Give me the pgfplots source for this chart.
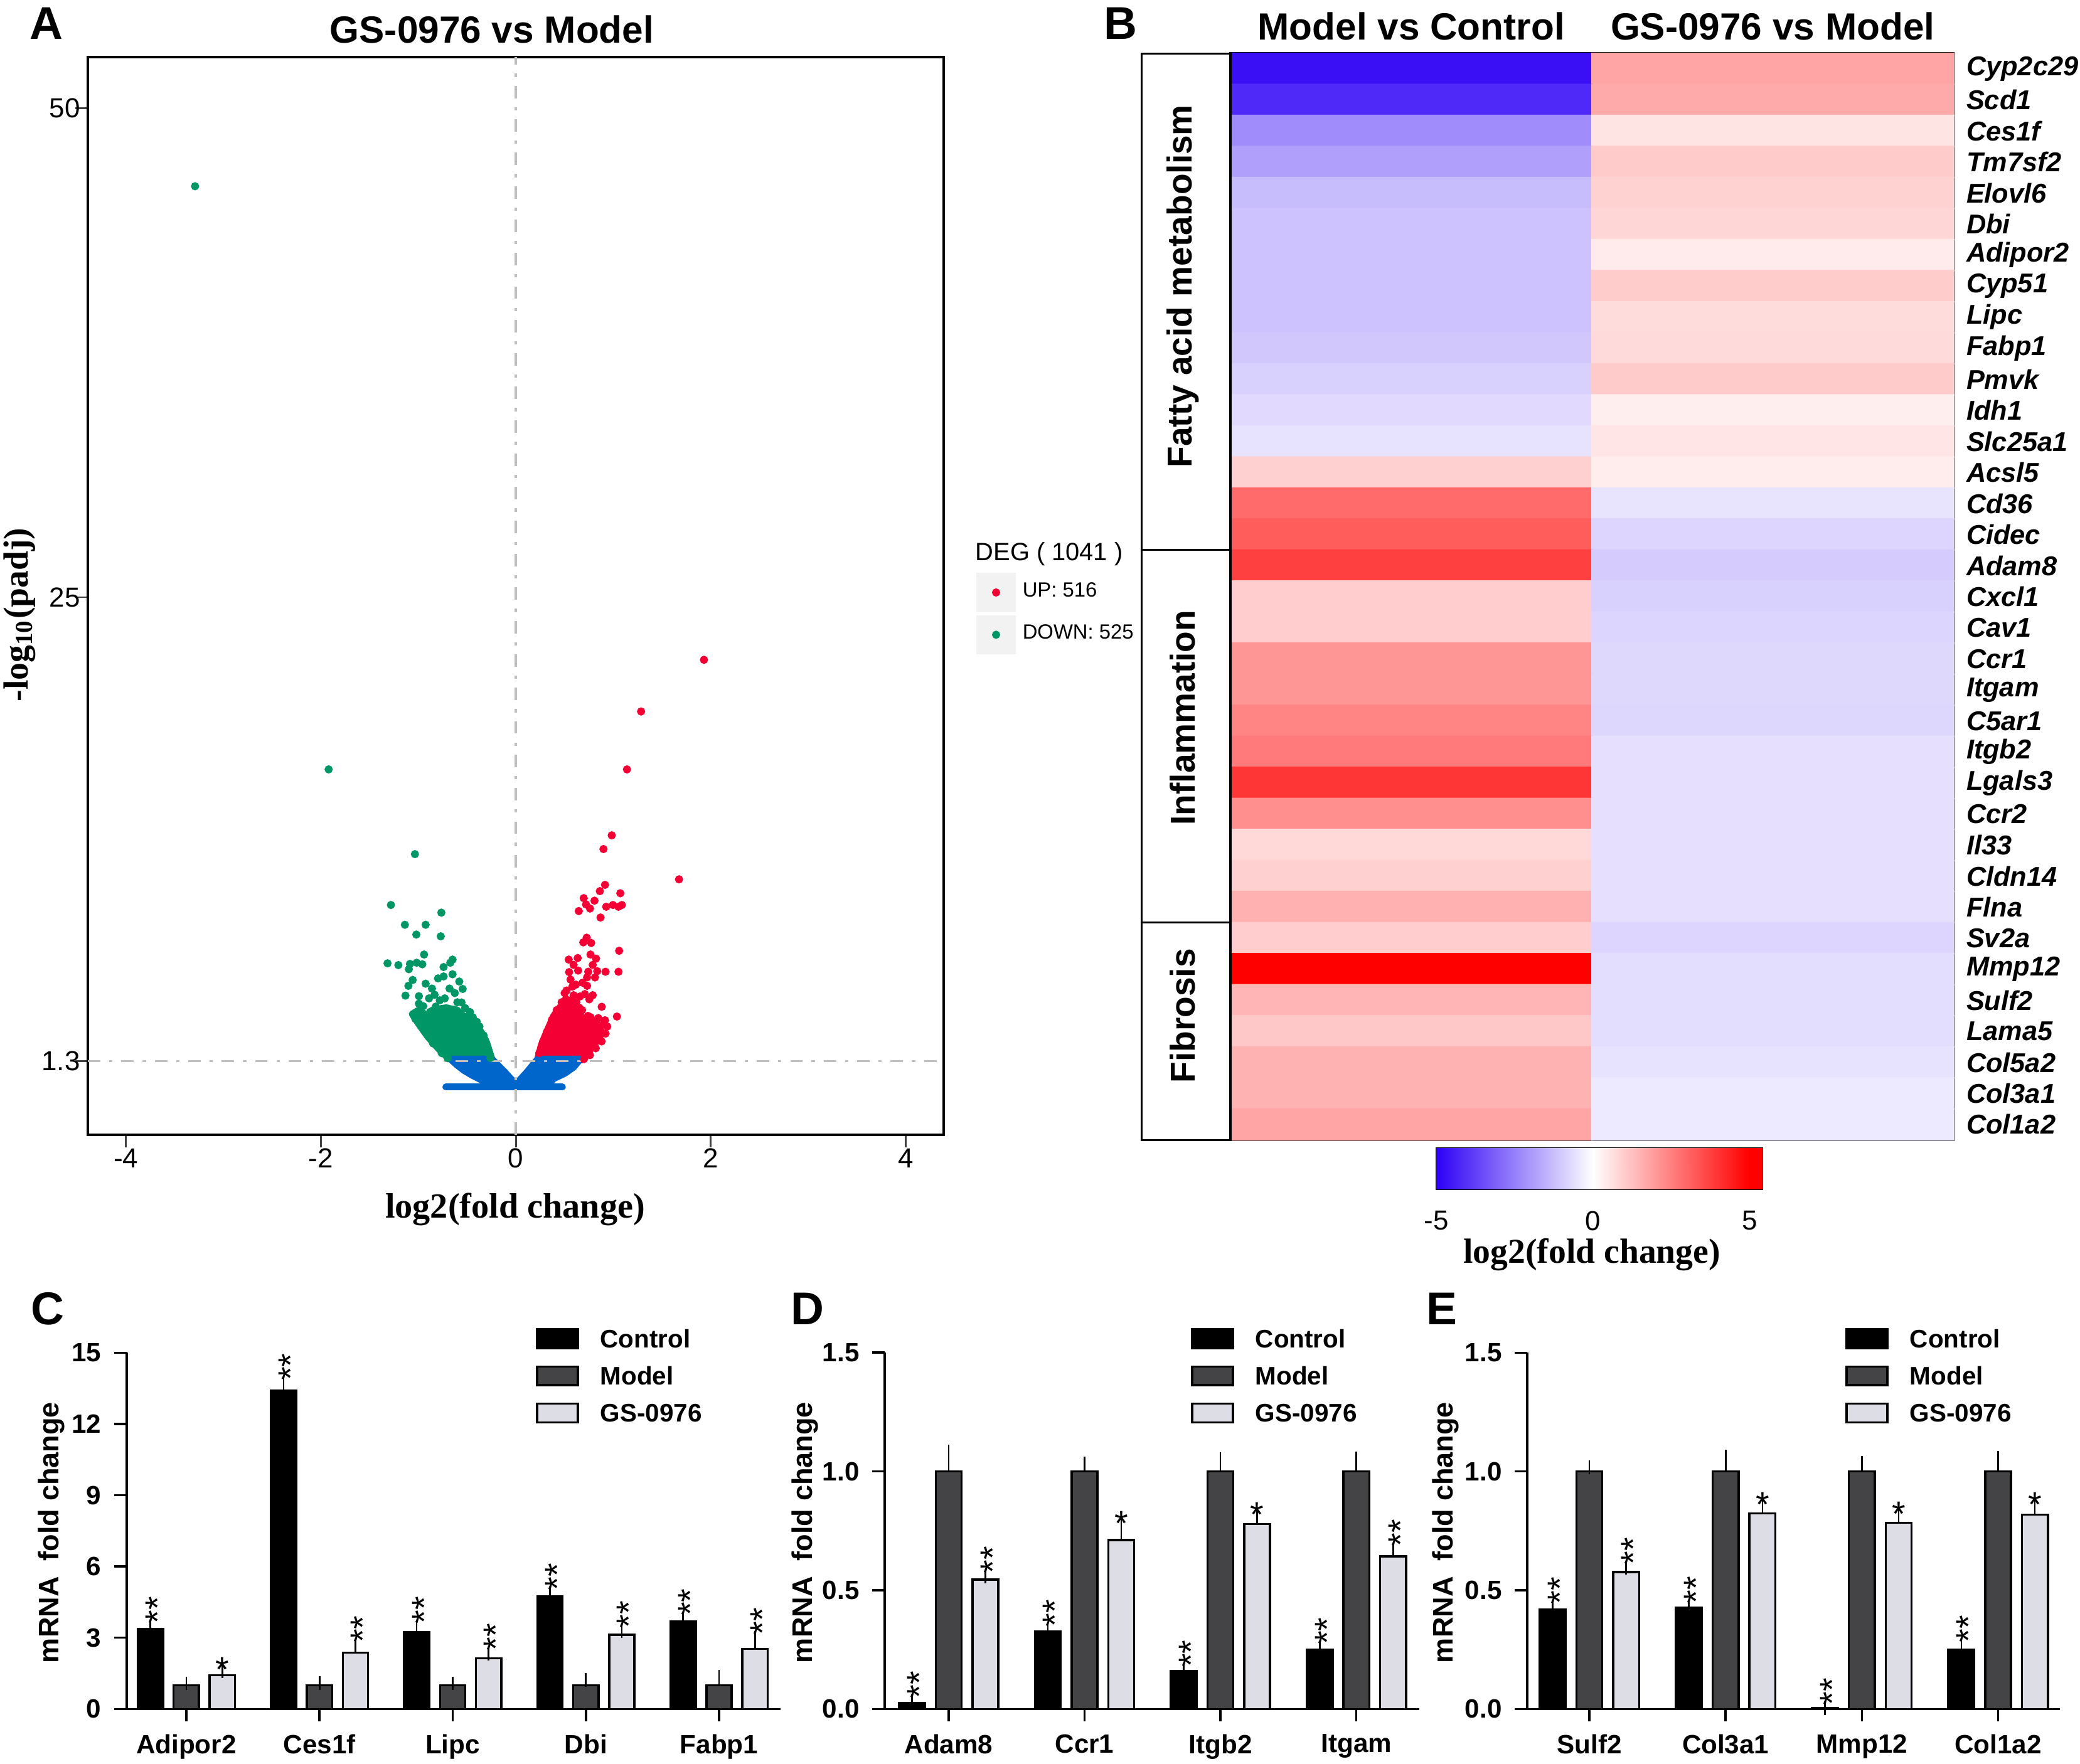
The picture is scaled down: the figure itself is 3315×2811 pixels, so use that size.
\documentclass[border=0pt]{standalone}
\usepackage{pgfplots}
\pgfplotsset{compat=1.18}
\usepackage{pgfplotstable}
\usepackage{fontspec}
\setmainfont{Liberation Sans}
\newfontfamily\tnr{Liberation Serif}
\newcommand{\fs}[1]{\fontsize{#1}{#1}\selectfont}
\definecolor{vgreen}{RGB}{0,150,102}
\definecolor{vred}{RGB}{245,0,52}
\definecolor{vblue}{RGB}{0,102,204}
\definecolor{modelgray}{RGB}{68,68,70}
\definecolor{gsgray}{RGB}{221,221,230}
\definecolor{refgray}{RGB}{190,190,190}
\definecolor{keybg}{RGB}{242,242,242}

\pgfplotsset{
  colormap={hm}{rgb255(0cm)=(45,0,245) rgb255(25cm)=(255,255,255) rgb255(50cm)=(255,0,0) rgb255(51cm)=(255,0,0) rgb255(52cm)=(255,0,0)},
  deglegend/.style={legend image code/.code={\fill[keybg] (0pt,-5.12pt) rectangle (10.24pt,5.12pt); \draw[##1] plot coordinates {(5.12pt,0pt)};}},
  barlegend/.style={legend image code/.code={\draw[##1, line width=0.6pt] (0pt,-1.85pt) rectangle (11.1pt,3.25pt);}},
  barchart/.style={scale only axis, height=34.08mm, ymin=0,
    axis lines=left, axis line style={-, line width=0.6pt},
    tick align=outside, major tick length=3.4pt, tick style={line width=0.6pt, black},
    tick label style={font=\bfseries\fs{7.2}},
    clip=false,
    legend style={draw=none, fill=none, anchor=north west, font=\bfseries\fs{6.9}, row sep=3.3pt, column sep=5.8pt, nodes={inner sep=0pt}, inner sep=0pt},
    legend cell align=left},
  mybar/.style={ybar, bar shift=0pt, bar width=0.19, draw=black, line width=0.6pt, barlegend,
    error bars/.cd, y dir=plus, y explicit, error bar style={line width=0.45pt, black, solid}, error mark options={black, line width=0.45pt, mark size=1.85pt}},
}
% significance marks above an error bar: one upright asterisk, or two stacked
\newcommand{\sone}[2]{\node[anchor=base, inner sep=0pt, font=\fs{9.5}] at ([yshift=-2.8pt]axis cs:#1,#2) {*};}
\newcommand{\stwo}[2]{\node[rotate=90, anchor=west, inner sep=0pt, font=\fs{9.5}] at ([xshift=2pt, yshift=0.6pt]axis cs:#1,#2) {**};}

% bar data
\pgfplotstableread{
x y e
-0.27 3.37 0.10
0.73 13.40 0.30
1.73 3.24 0.23
2.73 4.74 0.12
3.73 3.69 0.11
}\Cc
\pgfplotstableread{
x y e
0 1 0.08
1 1 0.09
2 1 0.08
3 1 0.22
4 1 0.35
}\Cm
\pgfplotstableread{
x y e
0.27 1.42 0.17
1.27 2.37 0.29
2.27 2.13 0.21
3.27 3.12 0.16
4.27 2.53 0.46
}\Cg
\pgfplotstableread{
x y e
-0.27 0.026 0.006
0.73 0.325 0.008
1.73 0.159 0.004
2.73 0.250 0.008
}\Dc
\pgfplotstableread{
x y e
0 1 0.084
1 1 0.034
2 1 0.053
3 1 0.055
}\Dm
\pgfplotstableread{
x y e
0.27 0.545 0.013
1.27 0.711 0.062
2.27 0.779 0.032
3.27 0.642 0.030
}\Dg
\pgfplotstableread{
x y e
-0.27 0.419 0.009
0.73 0.426 0.005
1.73 0.003 0.000
2.73 0.251 0.016
}\Ec
\pgfplotstableread{
x y e
0 1 0.017
1 1 0.062
2 1 0.037
3 1 0.058
}\Em
\pgfplotstableread{
x y e
0.27 0.577 0.018
1.27 0.824 0.029
2.27 0.784 0.030
3.27 0.818 0.035
}\Eg

\begin{document}
\begin{tikzpicture}[x=0.06mm,y=-0.06mm]
\useasboundingbox (0,0) rectangle (3315,2811);

% ---------------- Panel A ----------------
\node[font=\bfseries\fs{12.5}] at (74,37) {A};
\node[font=\bfseries\fs{10.3}] at (784,47) {GS-0976 vs Model};
\node[rotate=90, font=\tnr\bfseries\fs{9.5}] at (31,980) {-log\textsubscript{10}(padj)};
\node[font=\tnr\bfseries\fs{9.6}] at (821,1928) {log2(fold change)};
\node[font=\fs{6.8}] at (1672,883) {DEG ( 1041 )};

\begin{axis}[at={(8.4mm,-108.54mm)}, anchor=south west, scale only axis,
  width=81.84mm, height=103.08mm,
  xmin=-4.39, xmax=4.39, ymin=-2.48, ymax=52.6,
  xtick={-4,-2,0,2,4}, xticklabels={-4,-2,0,2,4},
  ytick={1.3,25,50}, yticklabels={1.3,25,50},
  tick pos=left, tick align=outside, major tick length=3.4pt,
  tick style={black!75, line width=0.5pt},
  tick label style={font=\fs{7.5}},
  xticklabel style={yshift=3.2pt},
  yticklabel style={xshift=4.8pt},
  axis line style={line width=0.7pt},
  legend style={draw=none, fill=none, at={(1.0374,0.5221)}, anchor=north west,
    font=\fs{5.6}, row sep=0.86pt, column sep=1.9pt, nodes={inner sep=0pt}, inner sep=0pt},
  legend cell align=left,
]
% dense cores
\addplot[forget plot, fill=vred, draw=vred, line width=1.83pt, line join=round] coordinates {
(0.225,1.41) (0.260,2.10) (0.294,2.53) (0.340,3.06) (0.386,3.59) (0.455,4.07) (0.547,4.13) (0.616,4.02) (0.639,3.70) (0.708,3.43) (0.800,3.27) (0.869,3.06) (0.858,2.53) (0.800,2.10) (0.731,1.67) (0.674,1.35) (0.225,1.41)};
\addplot[forget plot, fill=vgreen, draw=vgreen, line width=1.83pt, line join=round] coordinates {
(-0.672,1.35) (-0.787,1.89) (-0.902,2.53) (-0.994,3.17) (-1.063,3.70) (-0.994,3.91) (-0.902,3.59) (-0.856,3.91) (-0.718,4.02) (-0.603,3.91) (-0.534,3.59) (-0.442,3.43) (-0.396,3.06) (-0.350,2.74) (-0.304,2.31) (-0.269,1.78) (-0.246,1.41) (-0.672,1.35)};
% UP
\addplot[only marks, mark=*, mark size=0.91pt, color=vred, mark options={draw=none, fill=vred}, deglegend] coordinates {
(1.93,21.8) (1.285,19.16) (1.14,16.2) (1.674,10.58) (0.984,12.83) (0.899,12.13) (0.915,10.30) (0.862,9.98) (1.072,9.87) (0.697,9.62) (0.807,9.49) (0.720,9.30) (0.761,9.09) (0.927,9.18) (0.996,9.27) (1.053,9.18) (1.088,9.27) (0.646,8.96) (0.869,8.63) (0.727,7.60) (0.692,7.36) (0.773,7.33) (1.060,6.93) (0.766,6.74) (0.635,6.56) (0.543,6.48) (0.823,6.53) (0.789,6.21) (0.593,6.21) (0.639,5.92) (0.547,5.84) (0.743,5.86) (0.835,5.89) (0.920,5.86) (1.053,5.86) (0.731,5.57) (0.812,5.57) (0.561,5.46) (0.616,5.20) (0.685,5.30) (0.731,5.14) (0.501,4.77) (0.593,4.66) (0.708,4.72) (0.789,4.66) (0.513,4.45) (0.754,4.45) (0.651,4.02) (0.881,4.07) (1.037,3.57) (0.766,3.54) (0.846,3.49) (0.915,3.38) (0.938,3.06) (0.865,2.90) (0.858,2.53) (0.363,3.22) (0.24,1.7) (0.28,2.3) (0.32,2.8) (0.37,3.4) (0.42,3.9) (0.47,4.3) (0.56,4.4) (0.62,4.3) (0.68,3.9) (0.74,3.6) (0.82,3.35) (0.90,3.2) (0.92,2.7) (0.88,2.3) (0.82,1.95) (0.76,1.6) (0.70,1.4) (0.52,4.9) (0.66,4.6) (0.58,5.1)};
\addlegendentry{UP: 516}
% DOWN
\addplot[only marks, mark=*, mark size=0.91pt, color=vgreen, mark options={draw=none, fill=vgreen}, deglegend] coordinates {
(-3.29,46.0) (-1.92,16.2) (-1.035,11.87) (-1.281,9.27) (-0.764,8.88) (-1.138,8.26) (-0.925,8.26) (-1.021,7.76) (-0.770,7.67) (-0.941,6.74) (-1.316,6.29) (-1.205,6.20) (-1.086,6.26) (-1.017,6.32) (-0.959,6.24) (-1.097,5.99) (-0.649,6.48) (-0.672,6.32) (-0.741,6.10) (-1.058,5.44) (-0.925,5.25) (-1.102,5.14) (-1.132,4.64) (-0.994,4.61) (-0.890,4.50) (-0.833,4.68) (-0.798,5.52) (-0.741,5.62) (-0.649,5.73) (-0.580,5.36) (-0.545,4.98) (-0.729,4.50) (-0.626,4.77) (-0.557,4.29) (-1.051,3.70) (-0.994,4.23) (-0.821,4.08) (-0.695,3.97) (-0.971,3.11) (-0.442,3.54) (-0.373,3.06) (-0.304,2.21) (-0.879,3.81) (-0.488,3.59) (-0.60,4.3) (-0.68,5.0) (-0.86,5.0) (-0.95,4.1) (-0.78,4.4) (-0.52,4.0) (-0.47,3.8) (-0.40,3.3) (-0.33,2.6) (-1.03,3.45) (-0.93,2.8) (-0.85,2.2) (-0.76,1.7) (-0.70,1.45) (-0.28,1.7) (-0.26,1.45)};
\addlegendentry{DOWN: 525}
% not significant
\addplot[forget plot, fill=vblue, draw=vblue, line width=1.83pt, line join=round] coordinates {
(-0.672,1.40) (-0.603,1.09) (-0.534,0.82) (-0.442,0.55) (-0.35,0.32) (-0.29,0.05) (0.33,0.05) (0.386,0.39) (0.501,0.66) (0.593,0.98) (0.662,1.40) (0.225,1.40) (0.11,0.71) (0.02,0.22) (-0.02,0.22) (-0.12,0.77) (-0.246,1.40) (-0.672,1.40)};
\addplot[forget plot, vblue, line width=1.83pt, line cap=round] coordinates {(-0.718,-0.03) (0.478,-0.03)};
% reference lines
\addplot[forget plot, refgray, line width=0.6pt, dash pattern=on 3.4pt off 2.4pt on 0.9pt off 2.4pt] coordinates {(0,-2.48) (0,52.6)};
\addplot[forget plot, refgray, line width=0.6pt, dash pattern=on 3.4pt off 2.4pt on 0.9pt off 2.4pt] coordinates {(-4.39,1.3) (4.39,1.3)};
\end{axis}

% ---------------- Panel B ----------------
\node[font=\bfseries\fs{12.5}] at (1786,37) {B};
\node[font=\tnr\bfseries\fs{9.5}] at (2537,2000) {log2(fold change)};

\begin{axis}[at={(117.66mm,-109.02mm)}, anchor=south west, scale only axis,
  width=69.12mm, height=103.92mm,
  xmin=-0.5, xmax=1.5, ymin=-0.5, ymax=34.5, y dir=reverse, enlargelimits=false,
  xtick={0,1}, xticklabels={Model vs Control, GS-0976 vs Model}, xticklabel pos=upper,
  ytick={0,...,34},
  yticklabels={Cyp2c29,Scd1,Ces1f,Tm7sf2,Elovl6,Dbi,Adipor2,Cyp51,Lipc,Fabp1,Pmvk,Idh1,Slc25a1,Acsl5,Cd36,Cidec,Adam8,Cxcl1,Cav1,Ccr1,Itgam,C5ar1,Itgb2,Lgals3,Ccr2,Il33,Cldn14,Flna,Sv2a,Mmp12,Sulf2,Lama5,Col5a2,Col3a1,Col1a2},
  yticklabel pos=right,
  major tick length=0pt,
  xticklabel style={font=\bfseries\fs{10.3}},
  yticklabel style={font=\bfseries\itshape\fs{7.4}},
  axis line style={line width=0.7pt},
  colormap name=hm,
  point meta min=-5, point meta max=5.4,
  clip=false,
]
\addplot[matrix plot*, mesh/cols=2, point meta=explicit] table[meta=c] {
x y c
0 0 -4.7
1 0 1.76
0 1 -4.2
1 1 1.67
0 2 -2.25
1 2 0.53
0 3 -1.86
1 3 1.04
0 4 -1.3
1 4 0.88
0 5 -1.2
1 5 0.80
0 6 -1.2
1 6 0.40
0 7 -1.2
1 7 1.00
0 8 -1.2
1 8 0.69
0 9 -1.1
1 9 0.73
0 10 -0.9
1 10 1.04
0 11 -0.72
1 11 0.33
0 12 -0.57
1 12 0.50
0 13 0.92
1 13 0.37
0 14 2.9
1 14 -0.53
0 15 3.2
1 15 -0.82
0 16 3.75
1 16 -1.0
0 17 0.98
1 17 -0.92
0 18 0.98
1 18 -0.83
0 19 2.06
1 19 -0.76
0 20 2.06
1 20 -0.76
0 21 2.4
1 21 -0.78
0 22 2.6
1 22 -0.6
0 23 3.94
1 23 -0.6
0 24 2.2
1 24 -0.6
0 25 0.76
1 25 -0.6
0 26 0.92
1 26 -0.6
0 27 1.55
1 27 -0.6
0 28 0.98
1 28 -0.82
0 29 5.0
1 29 -0.64
0 30 1.45
1 30 -0.64
0 31 1.07
1 31 -0.64
0 32 1.5
1 32 -0.57
0 33 1.5
1 33 -0.43
0 34 1.76
1 34 -0.43
};
\draw[line width=0.5pt] (axis cs:-0.7465,-0.5) rectangle (axis cs:-0.5,34.5);
\draw[line width=0.5pt] (axis cs:-0.7465,15.5) -- (axis cs:-0.5,15.5);
\draw[line width=0.5pt] (axis cs:-0.7465,27.5) -- (axis cs:-0.5,27.5);
\node[rotate=90, font=\bfseries\fs{9.4}] at (axis cs:-0.632,7.0) {Fatty acid metabolism};
\node[rotate=90, font=\bfseries\fs{9.4}] at (axis cs:-0.632,20.9) {Inflammation};
\node[rotate=90, font=\bfseries\fs{9.4}] at (axis cs:-0.632,30.5) {Fibrosis};
\end{axis}

% colour scale of panel B
\begin{axis}[at={(137.34mm,-113.7mm)}, anchor=south west, scale only axis,
  width=31.14mm, height=3.9mm,
  xmin=-5, xmax=5.4, ymin=0, ymax=1, enlargelimits=false,
  xtick={-5,0,5}, xticklabels={-5,0,5}, ytick=\empty,
  major tick length=0pt,
  xticklabel style={font=\fs{7.5}, yshift=-2.5pt},
  axis line style={line width=0.5pt},
  colormap name=hm,
  point meta min=-5, point meta max=5.4,
]
\addplot[surf, shader=interp, mesh/cols=4, point meta=explicit] table[meta=c] {
x y c
-5 0 -5
0 0 0
5 0 5
5.4 0 5.4
-5 1 -5
0 1 0
5 1 5
5.4 1 5.4
};
\end{axis}

% ---------------- Panel C ----------------
\node[font=\bfseries\fs{12.5}] at (76,2086) {C};
\node[rotate=90, font=\bfseries\fs{7.7}] at (82,2443) {mRNA\ \ fold change};
\begin{axis}[barchart, at={(12.12mm,-163.44mm)}, anchor=south west, width=62.52mm,
  xmin=-0.447, xmax=4.462, ymax=15,
  xtick={0,1,2,3,4}, xticklabels={Adipor2,Ces1f,Lipc,Dbi,Fabp1},
  ytick={0,3,6,9,12,15}, yticklabels={0,3,6,9,12,15},
  legend style={at={(0.6248,1.0704)}},
]
\addplot[fill=black, mybar] table[x=x, y=y, y error=e] {\Cc};
\addlegendentry{Control}
\addplot[fill=modelgray, mybar] table[x=x, y=y, y error=e] {\Cm};
\addlegendentry{Model}
\addplot[fill=gsgray, mybar] table[x=x, y=y, y error=e] {\Cg};
\addlegendentry{GS-0976}
\stwo{-0.27}{3.47} \stwo{0.73}{13.70} \stwo{1.73}{3.47} \stwo{2.73}{4.86} \stwo{3.73}{3.80}
\sone{0.27}{1.59} \stwo{1.27}{2.66} \stwo{2.27}{2.34} \stwo{3.27}{3.28} \stwo{4.27}{2.99}
\end{axis}

% ---------------- Panel D ----------------
\node[font=\bfseries\fs{12.5}] at (1287,2086) {D};
\node[rotate=90, font=\bfseries\fs{7.7}] at (1283,2443) {mRNA\ \ fold change};
\begin{axis}[barchart, at={(84.6mm,-163.44mm)}, anchor=south west, width=51.12mm,
  xmin=-0.47, xmax=3.464, ymax=1.5,
  xtick={0,1,2,3}, xticklabels={Adam8,Ccr1,Itgb2,Itgam},
  ytick={0,0.5,1,1.5}, yticklabels={0.0,0.5,1.0,1.5},
  legend style={at={(0.5716,1.0704)}},
]
\addplot[fill=black, mybar] table[x=x, y=y, y error=e] {\Dc};
\addlegendentry{Control}
\addplot[fill=modelgray, mybar] table[x=x, y=y, y error=e] {\Dm};
\addlegendentry{Model}
\addplot[fill=gsgray, mybar] table[x=x, y=y, y error=e] {\Dg};
\addlegendentry{GS-0976}
\stwo{-0.27}{0.032} \stwo{0.73}{0.333} \stwo{1.73}{0.163} \stwo{2.73}{0.258}
\stwo{0.27}{0.558} \sone{1.27}{0.773} \sone{2.27}{0.811} \stwo{3.27}{0.672}
\end{axis}

% ---------------- Panel E ----------------
\node[font=\bfseries\fs{12.5}] at (2298,2086) {E};
\node[rotate=90, font=\bfseries\fs{7.7}] at (2304,2443) {mRNA\ \ fold change};
\begin{axis}[barchart, at={(146.04mm,-163.44mm)}, anchor=south west, width=50.94mm,
  xmin=-0.455, xmax=3.455, ymax=1.5,
  xtick={0,1,2,3}, xticklabels={Sulf2,Col3a1,Mmp12,Col1a2},
  ytick={0,0.5,1,1.5}, yticklabels={0.0,0.5,1.0,1.5},
  legend style={at={(0.596,1.0704)}},
]
\addplot[fill=black, mybar] table[x=x, y=y, y error=e] {\Ec};
\addlegendentry{Control}
\addplot[fill=modelgray, mybar] table[x=x, y=y, y error=e] {\Em};
\addlegendentry{Model}
\addplot[fill=gsgray, mybar] table[x=x, y=y, y error=e] {\Eg};
\addlegendentry{GS-0976}
\stwo{-0.27}{0.428} \stwo{0.73}{0.431} \stwo{1.73}{0.003} \stwo{2.73}{0.267}
\stwo{0.27}{0.595} \sone{1.27}{0.853} \sone{2.27}{0.814} \sone{3.27}{0.853}
\end{axis}

\end{tikzpicture}
\end{document}
